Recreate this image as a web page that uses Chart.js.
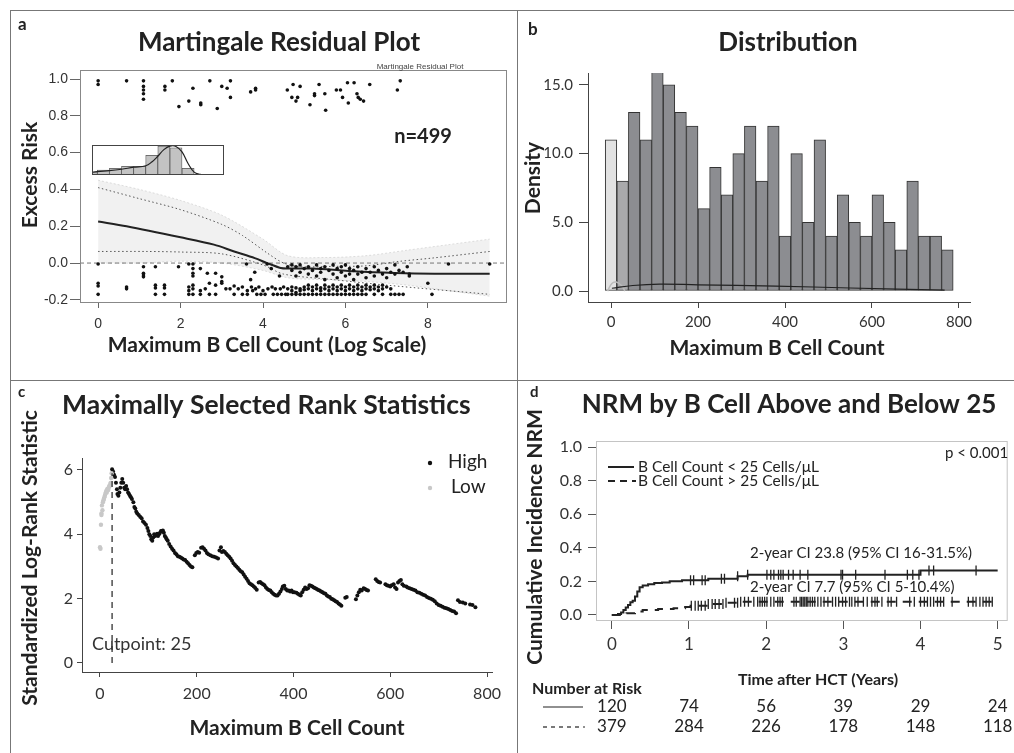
<!DOCTYPE html>
<html>
<head>
<meta charset="utf-8">
<script src="https://cdn.jsdelivr.net/npm/chart.js@4.4.1/dist/chart.umd.min.js"></script>
<style>
body { margin: 0; background: #fff; }
#wrap { position: relative; width: 1014px; height: 753px; overflow: hidden; }
canvas { position: absolute; }
.ln { position: absolute; background: #777; }
</style>
</head>
<body>
<div id="wrap">
  <div class="ln" style="left:10px;top:10px;width:1004px;height:1px"></div>
  <div class="ln" style="left:10px;top:10px;width:1px;height:743px"></div>
  <div class="ln" style="left:517px;top:10px;width:1px;height:743px"></div>
  <div class="ln" style="left:10px;top:380px;width:1004px;height:1px"></div>
  <canvas id="chartA" style="left:10px;top:10px" width="508" height="370"></canvas>
  <canvas id="chartInset" style="left:92px;top:145px" width="132" height="30"></canvas>
  <canvas id="chartB" style="left:518px;top:10px" width="496" height="370"></canvas>
  <canvas id="chartC" style="left:10px;top:380px" width="508" height="373"></canvas>
  <canvas id="chartD" style="left:518px;top:380px" width="496" height="373"></canvas>
</div>
<script>
// ---------- data ----------
// a: martingale residuals, [x, [y...]] columns
var residualTop = [
  [0, [0.99, 0.97]], [0.69, [0.99]], [1.1, [0.99, 0.96, 0.94, 0.92, 0.89]], [1.62, [0.96, 0.94]],
  [1.8, [0.99]], [1.96, [0.85]], [2.2, [0.88]], [2.3, [0.95]], [2.49, [0.87, 0.86]], [2.71, [0.99]],
  [2.89, [0.84]], [3.0, [0.96]], [3.13, [0.95]], [3.21, [0.99, 0.9]], [3.7, [0.93]], [3.82, [0.95, 0.94]],
  [4.59, [0.94]], [4.73, [0.97]], [4.7, [0.9]], [4.8, [0.88]], [4.84, [0.9]], [4.9, [0.96]],
  [5.14, [0.86]], [5.25, [0.91, 0.92]], [5.36, [0.97]], [5.52, [0.83]], [5.5, [0.92]], [5.78, [0.94]],
  [5.88, [0.94]], [5.93, [0.9]], [6.05, [0.98]], [6.07, [0.87]], [6.21, [0.98]], [6.28, [0.92]],
  [6.31, [0.9]], [6.36, [0.89]], [6.44, [0.88]], [6.59, [0.97]], [7.26, [0.94]], [7.33, [0.99]]
];
var residualLow = [
  [0, [-0.005, -0.11, -0.125, -0.17]], [0.69, [-0.13, -0.14]], [1.1, [-0.02, -0.055, -0.065, -0.075]],
  [1.39, [-0.02, -0.12, -0.135, -0.17]], [1.61, [-0.12, -0.135, -0.17]], [1.95, [-0.02]],
  [2.2, [-0.005, -0.13, -0.15, -0.17]], [2.3, [-0.005, -0.03, -0.055, -0.07, -0.12, -0.14, -0.17]],
  [2.48, [-0.03, -0.15, -0.17]], [2.6, [-0.14]], [2.65, [-0.055]], [2.7, [-0.11, -0.17]],
  [2.85, [-0.055, -0.12, -0.17]], [3.0, [-0.075, -0.1, -0.11]], [3.1, [-0.14]], [3.2, [-0.14]],
  [3.3, [-0.125, -0.17]], [3.4, [-0.14]], [3.5, [-0.13, -0.17]], [3.6, [-0.005]], [3.62, [-0.15, -0.17]],
  [3.7, [-0.09]], [3.72, [-0.13]], [3.75, [-0.15]], [3.8, [-0.05]], [3.82, [-0.14]], [3.85, [-0.17]],
  [3.9, [-0.13]], [3.95, [-0.17]], [4.0, [-0.15]], [4.05, [-0.17]], [4.1, [-0.005]], [4.12, [-0.14]],
  [4.2, [-0.03]], [4.22, [-0.13]], [4.25, [-0.17]], [4.3, [-0.14]], [4.35, [-0.17]], [4.4, [-0.07]],
  [4.42, [-0.14]], [4.45, [-0.17]], [4.5, [-0.13]], [4.55, [-0.17]],
  [4.6, [-0.02, -0.14, -0.17]], [4.7, [-0.01, -0.04, -0.13, -0.15, -0.17]],
  [4.8, [-0.02, -0.07, -0.135, -0.16, -0.17]], [4.9, [-0.01, -0.05, -0.14, -0.15, -0.17]],
  [5.0, [-0.03, -0.13, -0.145, -0.17]], [5.1, [-0.02, -0.06, -0.12, -0.14, -0.17]],
  [5.2, [-0.04, -0.13, -0.15, -0.17]], [5.3, [-0.01, -0.07, -0.12, -0.14, -0.17]],
  [5.4, [-0.03, -0.05, -0.135, -0.15, -0.17]], [5.5, [-0.02, -0.09, -0.12, -0.14, -0.17]],
  [5.6, [-0.04, -0.13, -0.15, -0.17]], [5.7, [-0.01, -0.06, -0.12, -0.14, -0.17]],
  [5.8, [-0.03, -0.08, -0.13, -0.15, -0.17]], [5.9, [-0.02, -0.05, -0.12, -0.14, -0.17]],
  [6.0, [-0.01, -0.07, -0.13, -0.15, -0.17]], [6.1, [-0.03, -0.06, -0.12, -0.14, -0.17]],
  [6.2, [-0.04, -0.09, -0.13, -0.15, -0.17]], [6.3, [-0.02, -0.06, -0.12, -0.14, -0.17]],
  [6.4, [-0.05, -0.13, -0.15, -0.17]], [6.5, [-0.03, -0.08, -0.12, -0.14, -0.17]],
  [6.6, [-0.05, -0.13, -0.145]], [6.7, [-0.02, -0.07, -0.12, -0.14, -0.17]], [6.8, [-0.04, -0.13, -0.15]],
  [6.9, [-0.06, -0.12, -0.14, -0.17]], [7.0, [-0.03, -0.08, -0.13]], [7.1, [-0.05, -0.14, -0.17]],
  [7.2, [-0.01, -0.06, -0.17]], [7.3, [-0.04, -0.17]], [7.4, [-0.05, -0.17]],
  [7.5, [-0.02]], [7.55, [-0.06, -0.07]], [8.0, [-0.11]], [8.1, [-0.17]], [8.5, [-0.005]], [9.5, [-0.005]]
];
var smoothX = [0, 0.69, 2, 2.81, 3.3, 3.8, 4.1, 4.43, 4.6, 5.2, 5.7, 6.2, 7.2, 8.15, 9.5];
var smoothY = [0.226, 0.2, 0.14, 0.1, 0.063, 0.027, 0.0, -0.027, -0.03, -0.03, -0.036, -0.045, -0.054, -0.058, -0.058];
var ciUpX = [0, 1, 2, 3, 3.5, 4.1, 4.5, 4.9, 5.7, 6.5, 7.3, 8.1, 9.5];
var ciUpY = [0.41, 0.35, 0.29, 0.21, 0.15, 0.055, 0.0, -0.02, -0.018, -0.015, 0.009, 0.027, 0.063];
var ciLoX = [0, 1.2, 2, 3, 4, 4.5, 5.7, 7, 9.5];
var ciLoY = [0.063, 0.063, 0.06, 0.05, -0.01, -0.06, -0.09, -0.12, -0.17];
var bandX = [0, 1, 2, 3, 4, 4.6, 5.5, 6.5, 7.5, 8.5, 9.5];
var bandTop = [0.45, 0.4, 0.34, 0.26, 0.13, 0.04, 0.03, 0.04, 0.07, 0.1, 0.13];
var bandBottom = [0.0, 0.0, 0.01, 0.0, -0.04, -0.08, -0.09, -0.1, -0.12, -0.15, -0.18];
var resTicksX = [0, 2, 4, 6, 8];
var resTicksY = [-0.2, 0, 0.2, 0.4, 0.6, 0.8, 1.0];

// a inset histogram (relative heights)
var insetCenters = [-0.5, 0.5, 1.5, 2.5, 3.5, 4.5, 5.5, 6.5, 7.5];
var insetHeights = [11, 17, 23, 30, 30, 68, 100, 94, 23];
var insetCurveX = [-0.6, 0, 1, 2, 3, 4, 4.5, 5, 5.5, 6, 6.5, 7, 7.5, 8, 8.5, 9, 10.5];
var insetCurveY = [8, 12, 15, 20, 27, 32, 45, 65, 88, 100, 99, 80, 40, 10, 2, 0, 0];

// b: distribution histogram
var distCenters = [0, 26.7, 53.3, 80, 106.7, 133.3, 160, 186.7, 213.3, 240, 266.7, 293.3, 320, 346.7, 373.3,
  400, 426.7, 453.3, 480, 506.7, 533.3, 560, 586.7, 613.3, 640, 666.7, 693.3, 720, 746.7, 773.3];
var distDensity = [11, 8, 13, 11, 16, 15, 13, 12, 6, 9, 7, 10, 12, 8, 12, 4, 10, 5, 11, 4, 7, 5, 4, 7, 5, 3, 8, 4, 4, 3];
var kdeX = [2, 50, 112, 200, 379, 550, 767];
var kdeY = [0.2, 0.4, 0.5, 0.45, 0.36, 0.22, 0.07];
var bumpX = [-8, 2, 12, 24, 32];
var bumpY = [0, 0.55, 0.65, 0.4, 0];
var distTicksX = [0, 200, 400, 600, 800];
var distTicksY = [0, 5, 10, 15];

// c: maximally selected rank statistics
var highX = [25, 27, 29, 31, 33, 35, 36, 38, 40, 42, 44, 46, 48, 50, 52, 54, 56, 58, 60, 62, 64, 66, 69, 71, 73, 75, 77, 80, 83, 86,
  89, 92, 95, 98, 100, 102, 104, 106, 108, 110, 112, 114, 116, 118, 120, 122, 124, 126, 128, 130, 132, 134, 136, 138, 140, 143,
  146, 149, 152, 155, 158, 161, 164, 167, 170, 173, 176, 179, 182, 185, 188, 191, 196, 199, 202, 205, 209, 212, 215, 218, 221,
  224, 228, 232, 236, 240, 244, 247, 250, 252, 255, 258, 261, 264, 267, 270, 273, 276, 279, 282, 285, 288, 291, 294, 297, 300,
  303, 306, 309, 312, 315, 318, 321, 324, 328, 331, 334, 337, 340, 343, 346, 349, 352, 355, 358, 361, 364, 367, 370, 373, 376,
  378, 381, 384, 387, 390, 393, 396, 399, 402, 406, 409, 412, 415, 418, 421, 424, 427, 430, 433, 436, 439, 442, 445, 448, 451,
  454, 457, 460, 463, 466, 469, 472, 475, 478, 481, 484, 487, 490, 493, 496, 499, 507, 510, 529, 532, 535, 538, 541, 545, 548,
  551, 554, 570, 573, 576, 579, 590, 593, 596, 600, 603, 607, 610, 613, 616, 619, 622, 625, 628, 633, 636, 640, 644, 648, 652,
  656, 660, 664, 668, 672, 676, 680, 684, 688, 692, 696, 700, 704, 708, 712, 716, 720, 724, 728, 732, 736, 740, 744, 750, 755,
  765, 770, 776];
var highY = [6.02, 5.95, 5.85, 5.78, 5.6, 5.4, 5.25, 5.2, 5.3, 5.45, 5.6, 5.72, 5.6, 5.45, 5.4, 5.5, 5.4, 5.3, 5.25, 5.2, 5.15, 5.1,
  5.0, 4.85, 4.8, 4.7, 4.65, 4.6, 4.55, 4.5, 4.4, 4.35, 4.3, 4.2, 4.1, 4.0, 3.95, 3.85, 3.8, 3.9, 4.0, 3.95, 3.98, 4.02, 3.95,
  4.0, 4.05, 4.1, 4.1, 4.12, 4.05, 3.95, 3.9, 3.85, 3.8, 3.7, 3.62, 3.55, 3.5, 3.42, 3.38, 3.32, 3.3, 3.28, 3.25, 3.22, 3.2,
  3.15, 3.1, 3.05, 3.0, 2.98, 3.35, 3.42, 3.45, 3.43, 3.58, 3.6, 3.55, 3.5, 3.42, 3.38, 3.35, 3.32, 3.3, 3.28, 3.25, 3.5, 3.6,
  3.45, 3.48, 3.45, 3.4, 3.35, 3.3, 3.25, 3.18, 3.1, 3.05, 3.0, 2.95, 2.9, 2.85, 2.82, 2.75, 2.68, 2.62, 2.55, 2.48, 2.45, 2.42,
  2.38, 2.33, 2.28, 2.5, 2.52, 2.48, 2.45, 2.42, 2.35, 2.3, 2.27, 2.25, 2.2, 2.15, 2.12, 2.1, 2.1, 2.15, 2.22, 2.3, 2.38, 2.4,
  2.3, 2.25, 2.25, 2.22, 2.25, 2.2, 2.2, 2.18, 2.15, 2.12, 2.1, 2.2, 2.28, 2.35, 2.3, 2.32, 2.42, 2.4, 2.38, 2.35, 2.32, 2.3,
  2.27, 2.25, 2.22, 2.2, 2.17, 2.15, 2.1, 2.07, 2.05, 2.0, 1.98, 1.95, 1.92, 1.9, 1.85, 1.82, 1.78, 2.03, 2.05, 1.98, 2.1, 2.2,
  2.28, 2.25, 2.32, 2.3, 2.27, 2.25, 2.6, 2.55, 2.52, 2.5, 2.45, 2.42, 2.4, 2.38, 2.42, 2.45, 2.35, 2.3, 2.5, 2.55, 2.58, 2.45,
  2.4, 2.38, 2.35, 2.32, 2.3, 2.28, 2.25, 2.2, 2.18, 2.15, 2.12, 2.1, 2.05, 2.02, 2.0, 1.97, 1.92, 1.85, 1.8, 1.78, 1.75, 1.72,
  1.7, 1.68, 1.65, 1.62, 1.6, 1.55, 1.95, 1.9, 1.88, 1.85, 1.82, 1.8, 1.73];
var lowX = [0, 1, 2, 3, 3, 4, 5, 6, 7, 8, 9, 10, 11, 12, 13, 14, 15, 16, 17, 18, 19, 20, 21, 22, 23, 24];
var lowY = [3.6, 3.55, 4.3, 4.65, 4.6, 4.9, 4.75, 5.0, 5.05, 5.1, 5.15, 5.2, 5.25, 5.3, 5.35, 5.3, 5.4, 5.42, 5.38, 5.45, 5.5,
  5.5, 5.55, 5.6, 5.75, 5.9];
var cutpoint = 25;
var rankTicksX = [0, 200, 400, 600, 800];
var rankTicksY = [0, 2, 4, 6];

// d: cumulative incidence of NRM
var nrmLowT = [0, 0.08, 0.12, 0.15, 0.18, 0.21, 0.24, 0.27, 0.3, 0.33, 0.36, 0.4, 0.47, 0.55, 0.65, 0.75, 0.91, 1.25, 1.63, 1.76, 4.0, 5.0];
var nrmLowY = [0, 0.005, 0.015, 0.03, 0.045, 0.06, 0.075, 0.085, 0.11, 0.14, 0.165, 0.175, 0.183, 0.19, 0.193, 0.2, 0.206, 0.216, 0.231, 0.239, 0.265, 0.265];
var nrmHighT = [0, 0.15, 0.19, 0.3, 0.4, 0.6, 0.8, 0.95, 1.02, 1.25, 1.45, 1.67, 4.94];
var nrmHighY = [0, 0, 0.01, 0.02, 0.03, 0.035, 0.04, 0.048, 0.055, 0.065, 0.072, 0.078, 0.078];
var censorLow = [1.02, 1.06, 1.17, 1.21, 1.42, 1.46, 1.63, 1.76, 2.01, 2.06, 2.1, 2.16, 2.19, 2.22, 2.29, 2.35, 2.44, 2.54,
  2.97, 2.99, 3.16, 3.54, 3.83, 3.9, 3.98, 4.11, 4.17, 4.72];
var censorHigh = [1.03, 1.08, 1.12, 1.16, 1.21, 1.25, 1.3, 1.34, 1.39, 1.44, 1.48, 1.59, 1.63, 1.67, 1.72, 1.77, 1.84, 1.89,
  1.92, 1.95, 1.98, 2.01, 2.06, 2.1, 2.15, 2.18, 2.21, 2.36, 2.39, 2.44, 2.46, 2.48, 2.5, 2.52, 2.54, 2.57, 2.6, 2.63, 2.67,
  2.71, 2.75, 2.8, 2.86, 2.9, 2.94, 2.99, 3.03, 3.08, 3.11, 3.15, 3.19, 3.26, 3.31, 3.37, 3.41, 3.44, 3.5, 3.58, 3.62, 3.69,
  3.86, 3.92, 4.0, 4.05, 4.09, 4.13, 4.17, 4.22, 4.26, 4.3, 4.41, 4.62, 4.68, 4.72, 4.77, 4.81, 4.85, 4.89, 4.93];
var riskTimes = [0, 1, 2, 3, 4, 5];
var riskLow = [120, 74, 56, 39, 29, 24];
var riskHigh = [379, 284, 226, 178, 148, 118];
var nrmTicksY = [0, 0.2, 0.4, 0.6, 0.8, 1.0];

// ---------- helpers ----------
Chart.defaults.font.family = 'Lato, "Open Sans", sans-serif';
Chart.defaults.color = '#333';
Chart.defaults.animation = false;
Chart.defaults.plugins.legend.display = false;
Chart.defaults.plugins.tooltip.enabled = false;

function pts(xs, ys) { return xs.map(function (x, i) { return { x: x, y: ys[i] }; }); }
function cols(list) {
  var out = [];
  list.forEach(function (c) { c[1].forEach(function (y) { out.push({ x: c[0], y: y }); }); });
  return out;
}
function stepAt(xs, ys, t) {
  var v = ys[0];
  for (var i = 0; i < xs.length; i++) { if (xs[i] <= t) v = ys[i]; }
  return v;
}
function fixedTicks(vals) { return function (s) { s.ticks = vals.map(function (v) { return { value: v }; }); }; }
function textPlugin(items, extra) {
  return {
    id: 'txt',
    afterDraw: function (chart) {
      var c = chart.ctx;
      items.forEach(function (t) {
        c.save();
        c.font = t.f; c.fillStyle = t.c || '#222';
        c.textAlign = t.a || 'center'; c.textBaseline = 'middle';
        c.translate(t.x, t.y);
        if (t.r) c.rotate(t.r);
        c.fillText(t.s, 0, 0);
        c.restore();
      });
      if (extra) extra(chart, c);
    }
  };
}
var frame = {
  id: 'frame',
  afterDatasetsDraw: function (chart, args, o) {
    if (!o || !o.color) return;
    var a = chart.chartArea, c = chart.ctx;
    c.save(); c.strokeStyle = o.color; c.lineWidth = 1;
    c.strokeRect(a.left + 0.5, a.top + 0.5, a.width - 1, a.height - 1);
    c.restore();
  }
};
Chart.register(frame);
var ROT = -Math.PI / 2;

// ---------- a: martingale residual plot ----------
// datasets are drawn last-to-first, so the band sits at the end of the list
new Chart(document.getElementById('chartA'), {
  type: 'line',
  data: {
    datasets: [
      { data: cols(residualTop), showLine: false, pointRadius: 1.8, pointBackgroundColor: '#111', pointBorderWidth: 0 },
      { data: cols(residualLow), showLine: false, pointRadius: 1.8, pointBackgroundColor: '#111', pointBorderWidth: 0 },
      { data: pts(smoothX, smoothY), borderColor: '#222', borderWidth: 2, pointRadius: 0, tension: 0.3 },
      { data: pts(ciUpX, ciUpY), borderColor: '#555', borderWidth: 1, borderDash: [1.5, 2.5], pointRadius: 0, tension: 0.3 },
      { data: pts(ciLoX, ciLoY), borderColor: '#555', borderWidth: 1, borderDash: [1.5, 2.5], pointRadius: 0, tension: 0.3 },
      { data: [{ x: -0.44, y: 0 }, { x: 9.92, y: 0 }], borderColor: '#777', borderWidth: 1, borderDash: [4, 3], pointRadius: 0 },
      { data: pts(bandX, bandTop), borderColor: 'rgba(200,200,200,0.6)', borderWidth: 1, borderDash: [2, 2], pointRadius: 0, tension: 0.3, fill: false },
      { data: pts(bandX, bandBottom), borderColor: 'rgba(200,200,200,0.6)', borderWidth: 1, borderDash: [2, 2], pointRadius: 0, tension: 0.3, fill: '-1', backgroundColor: 'rgba(215,215,215,0.35)' }
    ]
  },
  options: {
    responsive: false,
    layout: { padding: { left: 0, right: 11, top: 60, bottom: 37 } },
    plugins: { frame: { color: '#888' } },
    scales: {
      x: {
        type: 'linear', min: -0.44, max: 9.92, afterBuildTicks: fixedTicks(resTicksX),
        afterFit: function (s) { s.height = 40; },
        grid: { drawOnChartArea: false, tickLength: 5, tickColor: '#666' }, border: { display: false },
        ticks: { font: { family: '"Liberation Sans"', size: 14 }, color: '#333', padding: 8, callback: function (v) { return String(v); } }
      },
      y: {
        min: -0.217, max: 1.049, afterBuildTicks: fixedTicks(resTicksY),
        afterFit: function (s) { s.width = 70; },
        grid: { drawOnChartArea: false, tickLength: 10, tickColor: '#666' }, border: { display: false },
        ticks: { font: { family: '"Liberation Sans"', size: 14 }, color: '#333', padding: 2, callback: function (v) { return v.toFixed(1); } }
      }
    }
  },
  plugins: [textPlugin([
    { s: 'a', x: 8, y: 15, a: 'left', f: 'bold 17px Lato' },
    { s: 'Martingale Residual Plot', x: 269, y: 33, f: 'bold 26px Lato' },
    { s: 'Martingale Residual Plot', x: 410, y: 57, f: '8px "Liberation Sans"', c: '#444' },
    { s: 'n=499', x: 413, y: 127, f: 'bold 20px Lato' },
    { s: 'Excess Risk', x: 20, y: 165, r: ROT, f: 'bold 21px Lato' },
    { s: 'Maximum B Cell Count (Log Scale)', x: 257, y: 335, f: 'bold 21px Lato' }
  ])]
});

// inset histogram in panel a
new Chart(document.getElementById('chartInset'), {
  type: 'bar',
  data: {
    datasets: [
      { type: 'line', data: pts(insetCurveX, insetCurveY), borderColor: '#222', borderWidth: 1.2, pointRadius: 0, tension: 0.4 },
      { data: pts(insetCenters, insetHeights), backgroundColor: '#c3c3c3', borderColor: '#555', borderWidth: 0.8,
        borderSkipped: false, barPercentage: 1, categoryPercentage: 1 }
    ]
  },
  options: {
    responsive: false,
    layout: { padding: 0 },
    plugins: { frame: { color: '#444' } },
    scales: {
      x: { type: 'linear', offset: false, min: -0.44, max: 10.47, display: false },
      y: { min: 0, max: 104, display: false }
    }
  }
});

// ---------- b: distribution ----------
var distColors = distDensity.map(function (v, i) { return i === 0 ? '#e2e2e2' : (i === 1 ? '#a9a9ab' : '#8c8d91'); });
new Chart(document.getElementById('chartB'), {
  type: 'bar',
  data: {
    datasets: [
      { type: 'line', data: pts(kdeX, kdeY), borderColor: '#222', borderWidth: 1.2, pointRadius: 0, tension: 0.4, order: 0 },
      { type: 'line', data: pts(bumpX, bumpY), borderColor: '#bbb', borderWidth: 1.5, pointRadius: 0, tension: 0.4, order: 1 },
      { data: pts(distCenters, distDensity), backgroundColor: distColors, borderColor: '#333', borderWidth: 1,
        borderSkipped: false, barPercentage: 1, categoryPercentage: 1, order: 2 }
    ]
  },
  options: {
    responsive: false,
    layout: { padding: { left: 0, right: 44, top: 63, bottom: 38 } },
    scales: {
      x: {
        type: 'linear', offset: false, min: -52.9, max: 825.3, afterBuildTicks: fixedTicks(distTicksX),
        afterFit: function (s) { s.height = 40; },
        grid: { offset: false, drawOnChartArea: false, tickLength: 6, tickColor: '#444' }, border: { color: '#444' },
        ticks: { font: { size: 15 }, color: '#333', padding: 5, callback: function (v) { return String(v); } }
      },
      y: {
        min: -0.8, max: 15.87, afterBuildTicks: fixedTicks(distTicksY),
        afterFit: function (s) { s.width = 70; },
        grid: { drawOnChartArea: false, tickLength: 9, tickColor: '#444' }, border: { color: '#444' },
        ticks: { font: { size: 15 }, color: '#333', padding: 6, callback: function (v) { return v.toFixed(1); } }
      }
    }
  },
  plugins: [textPlugin([
    { s: 'b', x: 10, y: 20, a: 'left', f: 'bold 17px Lato' },
    { s: 'Distribution', x: 270, y: 33, f: 'bold 26px Lato' },
    { s: 'Density', x: 15, y: 168, r: ROT, f: 'bold 21px Lato' },
    { s: 'Maximum B Cell Count', x: 259, y: 338, f: 'bold 21px Lato' }
  ])]
});

// ---------- c: maximally selected rank statistics ----------
new Chart(document.getElementById('chartC'), {
  type: 'line',
  data: {
    datasets: [
      { data: [{ x: cutpoint, y: 0 }, { x: cutpoint, y: 5.9 }], borderColor: '#333', borderWidth: 1.3, borderDash: [6, 5], pointRadius: 0 },
      { data: pts(lowX, lowY), showLine: false, pointRadius: 2.2, pointBackgroundColor: '#c8c8c8', pointBorderWidth: 0 },
      { data: pts(highX, highY), showLine: false, pointRadius: 2, pointBackgroundColor: '#111', pointBorderWidth: 0 }
    ]
  },
  options: {
    responsive: false,
    layout: { padding: { left: 0, right: 26, top: 78, bottom: 41 } },
    scales: {
      x: {
        type: 'linear', min: -37.2, max: 810.3, afterBuildTicks: fixedTicks(rankTicksX),
        afterFit: function (s) { s.height = 40; },
        grid: { drawOnChartArea: false, tickLength: 5, tickColor: '#444' }, border: { color: '#444' },
        ticks: { font: { size: 16 }, color: '#333', padding: 7, callback: function (v) { return String(v); } }
      },
      y: {
        min: -0.28, max: 6.373, afterBuildTicks: fixedTicks(rankTicksY),
        afterFit: function (s) { s.width = 72; },
        grid: { drawOnChartArea: false, tickLength: 5, tickColor: '#444' }, border: { color: '#444' },
        ticks: { font: { size: 16 }, color: '#333', padding: 4, callback: function (v) { return String(v); } }
      }
    }
  },
  plugins: [textPlugin([
    { s: 'c', x: 8, y: 12, a: 'left', f: 'bold 15px Lato' },
    { s: 'Maximally Selected Rank Statistics', x: 52, y: 25, a: 'left', f: 'bold 26.5px Lato' },
    { s: 'Standardized Log-Rank Statistic', x: 20, y: 178, r: ROT, f: 'bold 21px Lato' },
    { s: 'Maximum B Cell Count', x: 287, y: 348, f: 'bold 21px Lato' },
    { s: 'High', x: 438, y: 82, a: 'left', f: '19px Lato' },
    { s: 'Low', x: 441, y: 107, a: 'left', f: '19px Lato' },
    { s: 'Cutpoint: 25', x: 82, y: 264, a: 'left', f: '18px Lato', c: '#333' }
  ], function (chart, c) {
    c.fillStyle = '#111'; c.beginPath(); c.arc(420, 83, 2.2, 0, Math.PI * 2); c.fill();
    c.fillStyle = '#c8c8c8'; c.beginPath(); c.arc(420, 108, 2.2, 0, Math.PI * 2); c.fill();
  })]
});

// ---------- d: NRM by B cell count ----------
new Chart(document.getElementById('chartD'), {
  type: 'line',
  data: {
    datasets: [
      { data: pts(nrmLowT, nrmLowY), stepped: true, borderColor: '#222', borderWidth: 2, pointRadius: 0 },
      { data: pts(nrmHighT, nrmHighY), stepped: true, borderColor: '#222', borderWidth: 2, borderDash: [9, 7], pointRadius: 0 },
      { data: censorLow.map(function (t) { return { x: t, y: stepAt(nrmLowT, nrmLowY, t) }; }), showLine: false,
        pointStyle: 'line', rotation: 90, pointRadius: 5, pointBorderColor: '#222', pointBorderWidth: 1.3 },
      { data: censorHigh.map(function (t) { return { x: t, y: stepAt(nrmHighT, nrmHighY, t) }; }), showLine: false,
        pointStyle: 'line', rotation: 90, pointRadius: 5, pointBorderColor: '#222', pointBorderWidth: 1.3 }
    ]
  },
  options: {
    responsive: false,
    layout: { padding: { left: 0, right: 1, top: 61, bottom: 92 } },
    plugins: { frame: { color: '#c4c4c4' } },
    scales: {
      x: {
        type: 'linear', min: -0.205, max: 5.13, afterBuildTicks: fixedTicks(riskTimes),
        afterFit: function (s) { s.height = 40; },
        grid: { drawOnChartArea: false, tickLength: 8, tickColor: '#555' }, border: { display: false },
        ticks: { font: { size: 17 }, color: '#333', padding: 5, callback: function (v) { return String(v); } }
      },
      y: {
        min: -0.036, max: 1.036, afterBuildTicks: fixedTicks(nrmTicksY),
        afterFit: function (s) { s.width = 78; },
        grid: { drawOnChartArea: false, tickLength: 8, tickColor: '#555' }, border: { display: false },
        ticks: { font: { size: 16 }, color: '#333', padding: 6, callback: function (v) { return v.toFixed(1); } }
      }
    }
  },
  plugins: [textPlugin([
    { s: 'd', x: 12, y: 12, a: 'left', f: 'bold 15px Lato' },
    { s: 'NRM by B Cell Above and Below 25', x: 271, y: 25, f: 'bold 26px Lato' },
    { s: 'Cumulative Incidence NRM', x: 17, y: 157, r: ROT, f: 'bold 21px Lato' },
    { s: 'B Cell Count < 25 Cells/\u03bcL', x: 120, y: 87, a: 'left', f: '15.5px Lato' },
    { s: 'B Cell Count > 25 Cells/\u03bcL', x: 120, y: 101, a: 'left', f: '15.5px Lato' },
    { s: 'p < 0.001', x: 427, y: 73, a: 'left', f: '15px Lato' },
    { s: '2-year CI 23.8 (95% CI 16-31.5%)', x: 232, y: 173, a: 'left', f: '15px Lato' },
    { s: '2-year CI 7.7 (95% CI 5-10.4%)', x: 232, y: 207, a: 'left', f: '15px Lato' },
    { s: 'Time after HCT (Years)', x: 300, y: 300, f: 'bold 16px Lato' },
    { s: 'Number at Risk', x: 14, y: 309, a: 'left', f: 'bold 16px Lato' }
  ], function (chart, c) {
    var xs = chart.scales.x;
    c.save();
    c.strokeStyle = '#222'; c.lineWidth = 2;
    c.beginPath(); c.moveTo(90, 87); c.lineTo(116, 87); c.stroke();
    c.setLineDash([7, 5]); c.beginPath(); c.moveTo(90, 101); c.lineTo(118, 101); c.stroke();
    c.lineWidth = 1.2; c.setLineDash([]);
    c.beginPath(); c.moveTo(25, 327); c.lineTo(65, 327); c.stroke();
    c.setLineDash([4, 4]); c.beginPath(); c.moveTo(25, 347); c.lineTo(67, 347); c.stroke();
    c.restore();
    c.font = '17px Lato'; c.fillStyle = '#222'; c.textAlign = 'center'; c.textBaseline = 'middle';
    riskTimes.forEach(function (t, i) {
      var px = xs.getPixelForValue(t);
      c.fillText(String(riskLow[i]), px, 327);
      c.fillText(String(riskHigh[i]), px, 347);
    });
  })]
});
</script>
</body>
</html>
